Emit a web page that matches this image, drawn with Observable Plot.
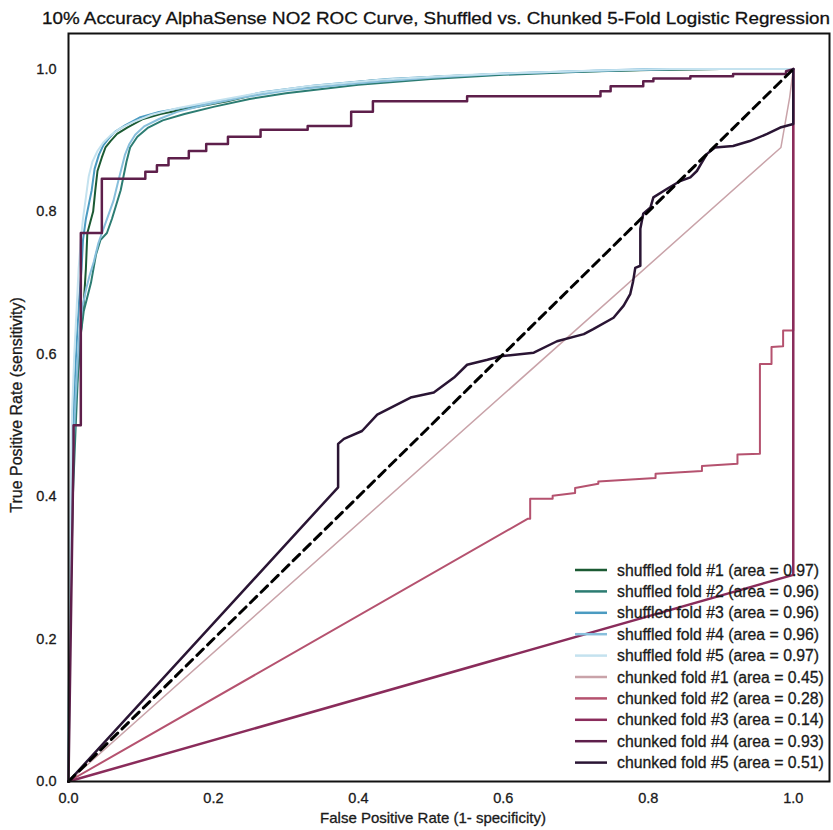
<!DOCTYPE html>
<html><head><meta charset="utf-8">
<script src="https://cdn.jsdelivr.net/npm/d3@7"></script>
<script src="https://cdn.jsdelivr.net/npm/@observablehq/plot@0.6"></script>
<style>
body{margin:0;background:#fff;}
#chart svg text{stroke:currentColor;stroke-width:0.3px;}
</style>
</head><body><div id="chart"></div>
<script>
const titleText = "10% Accuracy AlphaSense NO2 ROC Curve, Shuffled vs. Chunked 5-Fold Logistic Regression";
const xLabel = "False Positive Rate (1- specificity)";
const yLabel = "True Positive Rate (sensitivity)";
const xTicks = [0, 0.2, 0.4, 0.6, 0.8, 1.0];
const yTicks = [0, 0.2, 0.4, 0.6, 0.8, 1.0];

const foldNames = ["shuffled fold #1", "shuffled fold #2", "shuffled fold #3", "shuffled fold #4", "shuffled fold #5",
  "chunked fold #1", "chunked fold #2", "chunked fold #3", "chunked fold #4", "chunked fold #5"];
const foldAreas = [0.97, 0.96, 0.96, 0.96, 0.97, 0.45, 0.28, 0.14, 0.93, 0.51];
const foldColors = ["#1b5a33", "#2c7c72", "#4b9bc1", "#88bfdc", "#c4e2ef",
  "#c9a3a9", "#b5526f", "#8a2c5b", "#5e1f4b", "#2a1534"];
const foldWidths = [2, 2, 2, 2, 2, 1.5, 2, 2.5, 2.5, 2.5];

// [false positive rate, true positive rate]
const shuffled1 = [[0,0],[0.001,0.2],[0.003,0.26],[0.005,0.39],[0.008,0.49],[0.011,0.55],[0.015,0.6],[0.017,0.63],[0.021,0.67],[0.024,0.72],[0.026,0.77],[0.03,0.785],[0.034,0.8],[0.037,0.83],[0.04,0.857],[0.046,0.876],[0.051,0.89],[0.058,0.899],[0.067,0.909],[0.081,0.918],[0.103,0.93],[0.127,0.937],[0.172,0.946],[0.219,0.955],[0.265,0.966],[0.33,0.975],[0.42,0.984],[0.52,0.99],[0.62,0.994],[0.72,0.997],[0.82,0.999],[0.9,1],[1,1]];
const shuffled2 = [[0,0],[0.002,0.2],[0.006,0.4],[0.01,0.5],[0.013,0.57],[0.016,0.62],[0.021,0.66],[0.026,0.68],[0.031,0.7],[0.038,0.74],[0.044,0.76],[0.053,0.77],[0.06,0.79],[0.066,0.81],[0.072,0.83],[0.076,0.85],[0.08,0.87],[0.085,0.89],[0.095,0.905],[0.11,0.918],[0.13,0.928],[0.16,0.937],[0.2,0.947],[0.25,0.958],[0.3,0.966],[0.4,0.978],[0.5,0.986],[0.6,0.992],[0.7,0.996],[0.8,0.999],[0.9,1],[1,1]];
const shuffled3 = [[0,0],[0.001,0.22],[0.003,0.3],[0.004,0.42],[0.006,0.5],[0.009,0.57],[0.012,0.63],[0.015,0.68],[0.018,0.72],[0.02,0.76],[0.024,0.79],[0.028,0.81],[0.032,0.83],[0.036,0.86],[0.042,0.88],[0.048,0.893],[0.055,0.902],[0.064,0.912],[0.078,0.921],[0.098,0.932],[0.125,0.94],[0.17,0.948],[0.22,0.957],[0.27,0.968],[0.34,0.977],[0.44,0.986],[0.54,0.991],[0.64,0.995],[0.74,0.998],[0.84,1],[1,1]];
const shuffled4 = [[0,0],[0.001,0.22],[0.005,0.42],[0.009,0.52],[0.012,0.58],[0.015,0.63],[0.019,0.665],[0.024,0.69],[0.029,0.71],[0.035,0.73],[0.041,0.755],[0.048,0.775],[0.055,0.795],[0.062,0.815],[0.068,0.84],[0.073,0.86],[0.078,0.88],[0.084,0.895],[0.092,0.908],[0.105,0.92],[0.125,0.93],[0.15,0.94],[0.19,0.95],[0.24,0.96],[0.3,0.97],[0.4,0.98],[0.5,0.988],[0.6,0.994],[0.7,0.997],[0.8,1],[1,1]];
const shuffled5 = [[0,0],[0.001,0.25],[0.003,0.4],[0.005,0.52],[0.008,0.6],[0.011,0.66],[0.014,0.72],[0.017,0.76],[0.02,0.79],[0.024,0.82],[0.028,0.85],[0.033,0.87],[0.04,0.885],[0.048,0.897],[0.058,0.907],[0.07,0.916],[0.09,0.926],[0.115,0.936],[0.15,0.945],[0.2,0.955],[0.26,0.966],[0.33,0.976],[0.43,0.985],[0.53,0.991],[0.63,0.995],[0.73,0.998],[0.83,1],[1,1]];
const chunked1 = [[0,0],[0.983,0.89],[0.995,0.96],[1,1]];
const chunked2 = [[0,0],[0.634,0.369],[0.637,0.369],[0.637,0.397],[0.668,0.397],[0.668,0.401],[0.699,0.405],[0.699,0.412],[0.731,0.418],[0.731,0.421],[0.81,0.426],[0.81,0.432],[0.874,0.436],[0.874,0.443],[0.923,0.446],[0.923,0.459],[0.954,0.46],[0.954,0.586],[0.97,0.586],[0.97,0.61],[0.986,0.611],[0.986,0.633],[1,0.633],[1,1]];
const chunked3 = [[0,0],[1,0.29],[1,1]];
const chunked4 = [[0,0],[0.007,0.47],[0.007,0.5],[0.017,0.5],[0.017,0.77],[0.046,0.77],[0.046,0.846],[0.106,0.846],[0.106,0.856],[0.122,0.856],[0.122,0.865],[0.138,0.865],[0.138,0.875],[0.166,0.875],[0.166,0.885],[0.19,0.885],[0.19,0.895],[0.22,0.895],[0.22,0.905],[0.265,0.905],[0.265,0.915],[0.33,0.915],[0.33,0.92],[0.39,0.92],[0.39,0.94],[0.42,0.94],[0.42,0.955],[0.55,0.955],[0.55,0.962],[0.734,0.962],[0.734,0.969],[0.748,0.969],[0.748,0.976],[0.793,0.976],[0.793,0.983],[0.807,0.983],[0.807,0.987],[0.858,0.987],[0.858,0.99],[0.917,0.99],[0.917,0.993],[0.99,0.993],[0.99,0.997],[1,1]];
const chunked5 = [[0,0],[0.372,0.413],[0.372,0.474],[0.38,0.481],[0.405,0.492],[0.426,0.515],[0.472,0.539],[0.504,0.546],[0.532,0.567],[0.55,0.585],[0.578,0.592],[0.596,0.597],[0.642,0.602],[0.674,0.618],[0.711,0.628],[0.724,0.635],[0.752,0.651],[0.766,0.668],[0.775,0.684],[0.779,0.702],[0.782,0.721],[0.789,0.724],[0.789,0.776],[0.793,0.797],[0.803,0.806],[0.807,0.82],[0.826,0.832],[0.844,0.843],[0.858,0.848],[0.867,0.857],[0.874,0.869],[0.881,0.881],[0.892,0.89],[0.917,0.892],[0.94,0.899],[0.964,0.909],[0.982,0.918],[1,0.923],[1,1]];
const chanceLine = [[0,0],[1,1]];

const curves = [shuffled1, shuffled2, shuffled3, shuffled4, shuffled5, chunked1, chunked2, chunked3, chunked4, chunked5];
const toRows = pts => pts.map(([fpr, tpr]) => ({fpr, tpr}));

const fontFamily = "'Liberation Sans', Arial, Helvetica, sans-serif";

const plot = Plot.plot({
  width: 833,
  height: 830,
  marginTop: 33,
  marginLeft: 68,
  marginRight: 4,
  marginBottom: 49,
  style: {fontFamily, fontSize: "14px", color: "#1a1a1a", background: "#fff"},
  x: {domain: [0, 1.05]},
  y: {domain: [0, 1.05]},
  marks: [
    ...curves.map((pts, i) => Plot.line(toRows(pts), {x: "fpr", y: "tpr", stroke: foldColors[i], strokeWidth: foldWidths[i]})),
    Plot.line(toRows(chanceLine), {x: "fpr", y: "tpr", stroke: "#000", strokeWidth: 3, strokeDasharray: "9,6"}),
    Plot.frame({stroke: "#111", strokeWidth: 2}),
    Plot.axisX({ticks: xTicks, tickFormat: d3.format(".1f"), tickSize: 0, tickPadding: 11, fontSize: 14.5, label: null}),
    Plot.axisY({ticks: yTicks, tickFormat: d3.format(".1f"), tickSize: 0, tickPadding: 12, fontSize: 14.5, label: null})
  ]
});

const svg = d3.select(plot);
svg.append("text")
  .attr("x", 42).attr("y", 24)
  .attr("text-anchor", "start")
  .attr("font-family", fontFamily)
  .attr("font-size", 17)
  .attr("fill", "#111")
  .style("color", "#111")
  .attr("textLength", 788)
  .attr("lengthAdjust", "spacingAndGlyphs")
  .text(titleText);

svg.append("text")
  .attr("x", 433).attr("y", 823)
  .attr("text-anchor", "middle")
  .attr("font-family", fontFamily)
  .attr("font-size", 15)
  .attr("fill", "#1a1a1a")
  .text(xLabel);

svg.append("text")
  .attr("transform", "translate(22,405) rotate(-90)")
  .attr("text-anchor", "middle")
  .attr("font-family", fontFamily)
  .attr("font-size", 16)
  .attr("fill", "#1a1a1a")
  .text(yLabel);

const legend = svg.append("g").attr("font-family", fontFamily).attr("font-size", 15.8).attr("fill", "#1a1a1a");
foldNames.forEach((name, i) => {
  const y = 570 + i * 21.4;
  legend.append("line").attr("x1", 575).attr("x2", 607).attr("y1", y).attr("y2", y)
    .attr("stroke", foldColors[i]).attr("stroke-width", 2.5);
  legend.append("text").attr("x", 617).attr("y", y).attr("dy", "0.35em").attr("text-anchor", "start")
    .text(`${name} (area = ${foldAreas[i].toFixed(2)})`);
});

document.getElementById("chart").appendChild(plot);
</script>
</body></html>
